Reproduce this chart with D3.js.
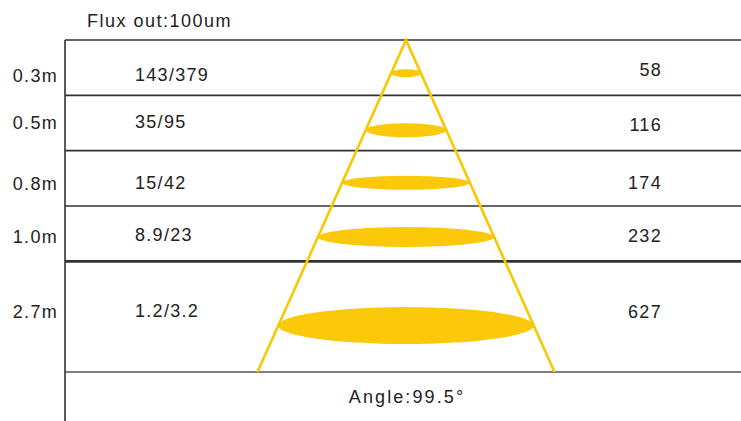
<!DOCTYPE html>
<html>
<head>
<meta charset="utf-8">
<script src="https://cdn.jsdelivr.net/npm/d3@7"></script>
<style>
  body { margin: 0; background: #fff; }
  text { font-family: "Liberation Sans", Arial, sans-serif; fill: #222; }
</style>
</head>
<body>
<div id="chart"></div>
<script>
document.addEventListener('DOMContentLoaded', function () {
    const width = 741;
    const height = 421;

    // Data
    const distances = ['0.3m', '0.5m', '0.8m', '1.0m', '2.7m'];
    const lux = ['143/379', '35/95', '15/42', '8.9/23', '1.2/3.2'];
    const diameters = ['58', '116', '174', '232', '627'];
    const title = 'Flux out:100um';
    const angleLabel = 'Angle:99.5°';

    // layout helpers: row spans (in units) and where the spot sits in each row
    const rowSpan = [1, 1, 1, 1, 2];
    const spotPos = [0.6, 0.63, 0.58, 0.56, 0.58];
    const spotRy = [4, 7, 7, 10, 18.5];
    // text baselines, px below the row's top rule
    const leftBase = [42, 34, 39, 37, 57];
    const midBase = [41, 33, 38, 35, 56];
    const rightBase = [36, 36, 38, 36, 57];

    const svg = d3.select('#chart')
        .append('svg')
        .attr('width', width)
        .attr('height', height);

    const edges = [0];
    rowSpan.forEach(s => edges.push(edges[edges.length - 1] + s));

    const y = d3.scaleLinear().domain([0, 6]).range([40, 372]);
    const apexX = 406;
    const halfBase = 148.5;
    // half width of the cone as function of depth
    const hw = d3.scaleLinear().domain([0, 6]).range([0, halfBase]);

    // horizontal rules
    svg.selectAll('.rule')
        .data(edges)
        .enter()
        .append('line')
        .attr('x1', 65)
        .attr('x2', width)
        .attr('y1', d => y(d))
        .attr('y2', d => y(d))
        .attr('stroke', (d, i) => i === edges.length - 1 ? '#555' : '#333')
        .attr('stroke-width', (d, i) => i === 4 ? 2.6 : 1.6);

    // left vertical
    svg.append('line')
        .attr('x1', 65).attr('x2', 65)
        .attr('y1', y(0)).attr('y2', height)
        .attr('stroke', '#333')
        .attr('stroke-width', 1.6);

    // spots
    svg.selectAll('.spot')
        .data(distances)
        .enter()
        .append('ellipse')
        .attr('cx', apexX)
        .attr('cy', (d, i) => y(edges[i] + rowSpan[i] * spotPos[i]))
        .attr('rx', (d, i) => hw(edges[i] + rowSpan[i] * spotPos[i]))
        .attr('ry', (d, i) => spotRy[i])
        .attr('fill', '#fcc90a');

    // cone
    svg.append('path')
        .attr('d', `M${apexX - halfBase},${y(6)} L${apexX},${y(0)} L${apexX + halfBase},${y(6)}`)
        .attr('fill', 'none')
        .attr('stroke', '#f8c800')
        .attr('stroke-width', 2.6);

    svg.selectAll('.dist')
        .data(distances)
        .enter()
        .append('text')
        .attr('x', 58)
        .attr('y', (d, i) => y(edges[i]) + leftBase[i])
        .attr('text-anchor', 'end')
        .attr('font-size', '18px')
        .attr('letter-spacing', '1.3px')
        .text(d => d);

    svg.selectAll('.lux')
        .data(lux)
        .enter()
        .append('text')
        .attr('x', 135)
        .attr('y', (d, i) => y(edges[i]) + midBase[i])
        .attr('font-size', '18px')
        .attr('letter-spacing', '1.3px')
        .text(d => d);

    svg.selectAll('.dia')
        .data(diameters)
        .enter()
        .append('text')
        .attr('x', 662)
        .attr('y', (d, i) => y(edges[i]) + rightBase[i])
        .attr('text-anchor', 'end')
        .attr('font-size', '18px')
        .attr('letter-spacing', '1.3px')
        .text(d => d);

    svg.append('text')
        .attr('x', 87)
        .attr('y', 27)
        .attr('font-size', '18px')
        .attr('letter-spacing', '1.5px')
        .text(title);

    svg.append('text')
        .attr('x', apexX + 1)
        .attr('y', 403)
        .attr('text-anchor', 'middle')
        .attr('font-size', '18px')
        .attr('letter-spacing', '2.1px')
        .text(angleLabel);
});
</script>
</body>
</html>
